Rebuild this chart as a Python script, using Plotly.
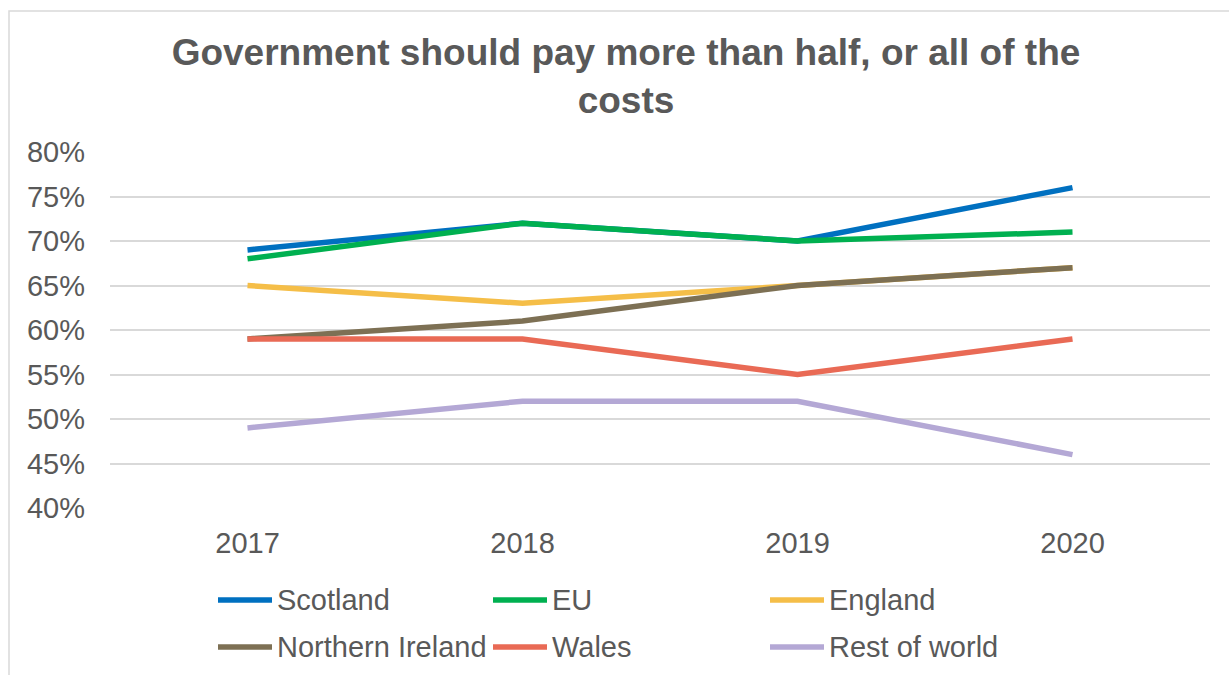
import plotly.graph_objects as go

# Survey share answering "Government should pay more than half, or all of the costs"
years = ["2017", "2018", "2019", "2020"]
scotland = [0.69, 0.72, 0.70, 0.76]
eu = [0.68, 0.72, 0.70, 0.71]
england = [0.65, 0.63, 0.65, 0.67]
northern_ireland = [0.59, 0.61, 0.65, 0.67]
wales = [0.59, 0.59, 0.55, 0.59]
rest_of_world = [0.49, 0.52, 0.52, 0.46]

series = [
    ("Scotland", scotland, "#0070C0"),
    ("EU", eu, "#00B050"),
    ("England", england, "#F5BE48"),
    ("Northern Ireland", northern_ireland, "#7D7054"),
    ("Wales", wales, "#E96A55"),
    ("Rest of world", rest_of_world, "#B4A8D5"),
]

W, H = 1229, 675
L, R, T, B = 110, 19, 152, 167
plot_w = W - L - R
plot_h = H - T - B

text_color = "#595959"
font_family = "Liberation Sans, Arial, sans-serif"


def px_x(px):
    """Pixel column -> paper x."""
    return (px - L) / plot_w


def px_y(py):
    """Pixel row -> paper y."""
    return ((H - B) - py) / plot_h


fig = go.Figure()
for name, vals, color in series:
    fig.add_trace(go.Scatter(
        x=years, y=vals, name=name, mode="lines",
        line=dict(color=color, width=5.5),
        hovertemplate="%{y:.0%}<extra>" + name + "</extra>",
    ))

fig.update_layout(
    width=W, height=H,
    margin=dict(l=L, r=R, t=T, b=B, autoexpand=False),
    paper_bgcolor="white",
    plot_bgcolor="white",
    font=dict(family=font_family, color=text_color, size=29),
    showlegend=False,
    title=dict(
        text="Government should pay more than half, or all of the<br>costs",
        x=626 / W, xref="container", xanchor="center",
        y=1 - 65 / H, yref="container", yanchor="top",
        font=dict(family=font_family, size=37, color=text_color, weight="bold"),
    ),
    xaxis=dict(
        type="category", range=[-0.5, 3.5],
        showgrid=False, zeroline=False, showline=False,
        tickfont=dict(size=29, color=text_color),
        ticks="", ticklabelstandoff=15,
    ),
    yaxis=dict(
        range=[0.40, 0.80], dtick=0.05, tickformat=".0%",
        showgrid=True, gridcolor="#D9D9D9", gridwidth=1.5,
        zeroline=False, showline=False,
        tickfont=dict(size=29, color=text_color),
        ticks="", ticklabelstandoff=24,
    ),
)

# legend laid out in three columns, two rows
legend_cols = [218, 493, 770]
legend_rows = [600, 647]
for i, (name, _, color) in enumerate(series):
    cx = legend_cols[i % 3]
    cy = legend_rows[i // 3]
    fig.add_shape(
        type="line", xref="paper", yref="paper",
        x0=px_x(cx), x1=px_x(cx + 54), y0=px_y(cy), y1=px_y(cy),
        line=dict(color=color, width=5.5),
    )
    fig.add_annotation(
        xref="paper", yref="paper", x=px_x(cx + 57), y=px_y(cy),
        xanchor="left", yanchor="middle", text=name, showarrow=False,
        font=dict(size=29, color=text_color, family=font_family),
    )

# chart frame
fig.add_shape(
    type="rect", xref="paper", yref="paper",
    x0=px_x(9), x1=px_x(W + 5), y0=px_y(H + 5), y1=px_y(11),
    line=dict(color="#D9D9D9", width=1.5), fillcolor="rgba(0,0,0,0)",
    layer="below",
)

fig.write_html("out.html")
